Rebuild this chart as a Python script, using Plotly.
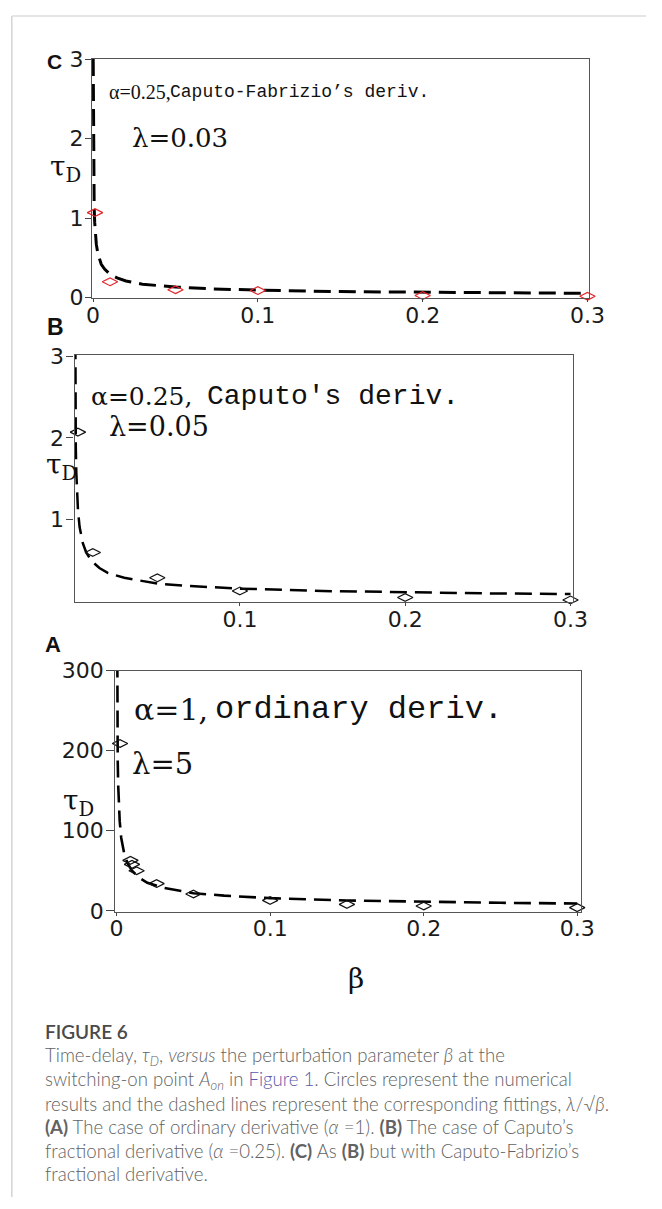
import plotly.graph_objects as go

W, H = 662, 1209

# ---------------- data ----------------
# Panel C: alpha=0.25, Caputo-Fabrizio's derivative, lambda=0.03
beta_C = [0.0012, 0.0103, 0.05, 0.1, 0.2, 0.3]
tau_C = [1.07, 0.20, 0.10, 0.09, 0.027, 0.018]
# Panel B: alpha=0.25, Caputo's derivative, lambda=0.05
beta_B = [0.002, 0.011, 0.05, 0.1, 0.2, 0.3]
tau_B = [2.07, 0.60, 0.29, 0.13, 0.05, 0.02]
# Panel A: alpha=1, ordinary derivative, lambda=5
beta_A = [0.0022, 0.009, 0.010, 0.013, 0.026, 0.05, 0.1, 0.15, 0.2, 0.3]
tau_A = [209, 63, 58, 50, 34, 21, 13, 8, 6, 4]

# dashed fitting curves
fit_beta = [0.0001, 0.00015, 0.0002, 0.0003, 0.0005, 0.0007, 0.001, 0.0015, 0.002,
            0.003, 0.005, 0.007, 0.01, 0.015, 0.02, 0.03, 0.05, 0.07, 0.1, 0.15,
            0.2, 0.25, 0.3]
fit_C = [3.0, 2.45, 2.12, 1.73, 1.34, 1.13, 0.95, 0.77, 0.67, 0.55, 0.42, 0.36,
         0.30, 0.245, 0.21, 0.17, 0.134, 0.113, 0.095, 0.077, 0.067, 0.060, 0.055]
fit_B = [5.0, 4.08, 3.54, 2.89, 2.24, 1.89, 1.58, 1.29, 1.12, 0.91, 0.71, 0.60,
         0.50, 0.41, 0.35, 0.29, 0.22, 0.19, 0.158, 0.129, 0.112, 0.100, 0.091]
fit_A = [500, 408, 354, 289, 224, 189, 158, 129, 112, 91, 71, 60, 50, 41, 35, 29,
         22, 19, 15.8, 12.9, 11.2, 10.0, 9.1]

xt_C = [0, 0.1, 0.2, 0.3]; xl_C = ["0", "0.1", "0.2", "0.3"]
yt_C = [0, 1, 2, 3]; yl_C = ["0", "1", "2", "3"]
xt_B = [0.1, 0.2, 0.3]; xl_B = ["0.1", "0.2", "0.3"]
yt_B = [1, 2, 3]; yl_B = ["1", "2", "3"]
xt_A = [0, 0.1, 0.2, 0.3]; xl_A = ["0", "0.1", "0.2", "0.3"]
yt_A = [0, 100, 200, 300]; yl_A = ["0", "100", "200", "300"]


def px(x):
    return x / W


def py(y):
    return 1 - y / H


fig = go.Figure()

panels = [
    ("x", "y", fit_C, beta_C, tau_C, "#e4262b", 3.0),
    ("x2", "y2", fit_B, beta_B, tau_B, "#111111", 2.5),
    ("x3", "y3", fit_A, beta_A, tau_A, "#111111", 2.6),
]
for xa, ya, fit, bx, ty, mcol, lw in panels:
    fig.add_trace(go.Scatter(x=fit_beta, y=fit, mode="lines", xaxis=xa, yaxis=ya,
                             line=dict(color="black", width=lw, dash="17px,8px"),
                             hoverinfo="skip"))
    fig.add_trace(go.Scatter(x=bx, y=ty, mode="markers", xaxis=xa, yaxis=ya,
                             cliponaxis=False,
                             marker=dict(symbol="diamond-wide-open", size=11,
                                         color=mcol, line=dict(width=1.2, color=mcol))))

common = dict(showline=True, linecolor="#555", linewidth=1.3, mirror=True,
              showgrid=False, zeroline=False, ticks="outside", tickcolor="#444",
              tickfont=dict(family="DejaVu Sans", size=22, color="#1a1a1a"))

XSO = -6
fig.update_layout(
    width=W, height=H, margin=dict(l=0, r=0, t=0, b=0),
    paper_bgcolor="white", plot_bgcolor="white", showlegend=False,
    xaxis=dict(domain=[px(89), px(603)], range=[-0.0006, 0.3009], anchor="y",
               tickvals=xt_C, ticktext=xl_C, ticklen=3, ticklabelstandoff=XSO, **common),
    yaxis=dict(domain=[py(292), py(48)], range=[-0.006, 3.0], anchor="x",
               tickvals=yt_C, ticktext=yl_C, ticklen=6, ticklabelstandoff=-3, **common),
    xaxis2=dict(domain=[px(71), px(587)], range=[0, 0.3018], anchor="y2",
                tickvals=xt_B, ticktext=xl_B, ticklen=3, ticklabelstandoff=XSO, **common),
    yaxis2=dict(domain=[py(602), py(350)], range=[-0.006, 3.012], anchor="x2",
                tickvals=yt_B, ticktext=yl_B, ticklen=7, ticklabelstandoff=-2, **common),
    xaxis3=dict(domain=[px(113), px(595)], range=[-0.0009, 0.3026], anchor="y3",
                tickvals=xt_A, ticktext=xl_A, ticklen=3, ticklabelstandoff=XSO, **common),
    yaxis3=dict(domain=[py(918), py(672)], range=[-1.2, 300], anchor="x3",
                tickvals=yt_A, ticktext=yl_A, ticklen=8, ticklabelstandoff=-2, **common),
)

anns = []


def ann(text, x, y, size, family, xanchor="left", yanchor="middle", color="#111",
        weight=None):
    f = dict(family=family, size=size, color=color)
    if weight is not None:
        f["weight"] = weight
    anns.append(dict(text=text, x=px(x), y=py(y), xref="paper", yref="paper",
                     xanchor=xanchor, yanchor=yanchor, showarrow=False, font=f,
                     align="left"))


SERIF = "DejaVu Serif"
MONO = "Liberation Mono"
BOLD_SANS = "Liberation Sans"

# panel letters
ann("<b>C</b>", 40, 51, 21, BOLD_SANS)
ann("<b>B</b>", 40, 321, 23, BOLD_SANS)
ann("<b>A</b>", 38, 645, 22, BOLD_SANS)

# panel C texts
ann("α=0.25,", 104, 82, 20, "Liberation Serif")
ann("Caputo-Fabrizio’s deriv.", 168, 82, 18, MONO)
ann("λ=0.03", 128, 129, 26, SERIF)
ann("τ<sub>D</sub>", 62, 160, 28, SERIF, xanchor="center")

# panel B texts
ann("α=0.25,", 86, 392, 25, SERIF)
ann("Caputo's deriv.", 206, 392, 28, MONO)
ann("λ=0.05", 104, 423, 27, SERIF)
ann("τ<sub>D</sub>", 57, 464, 28, SERIF, xanchor="center")

# panel A texts
ann("α=1,", 130, 712, 30, SERIF)
ann("ordinary deriv.", 214, 712, 32, MONO)
ann("λ=5", 128, 767, 29, SERIF)
ann("τ<sub>D</sub>", 75, 806, 28, SERIF, xanchor="center")

# x axis label
ann("β", 362, 986, 28, SERIF, xanchor="center")

# caption
CAP = "Lato"
CAPC = "#626262"
ann("FIGURE 6", 38, 1040, 19, CAP, color="#4a4a4a", weight=600)
cap_lines = [
    "Time-delay, <i>τ<sub>D</sub></i>, <i>versus</i> the perturbation parameter <i>β</i> at the",
    "switching-on point <i>A<sub>on</sub></i> in <span style=\"color:#5b59a8\">Figure 1</span>. Circles represent the numerical",
    "results and the dashed lines represent the corresponding fittings, <i>λ</i>/√<i>β</i>.",
    "<b>(A)</b> The case of ordinary derivative (<i>α</i> =1). <b>(B)</b> The case of Caputo’s",
    "fractional derivative (<i>α</i> =0.25). <b>(C)</b> As <b>(B)</b> but with Caputo-Fabrizio’s",
    "fractional derivative.",
]
cap_y = [1066, 1090, 1114, 1138, 1162, 1186]
for t, yy in zip(cap_lines, cap_y):
    ann(t, 38, yy, 18.6, CAP, color=CAPC, weight=300)

fig.update_layout(annotations=anns)

# light page border
fig.update_layout(shapes=[
    dict(type="line", xref="paper", yref="paper", x0=px(6), x1=px(6), y0=py(4), y1=py(1209),
         line=dict(color="#d4d4d4", width=1.5)),
    dict(type="line", xref="paper", yref="paper", x0=px(6), x1=px(662), y0=py(4), y1=py(4),
         line=dict(color="#dcdcdc", width=1.5)),
])

fig.write_html("out.html")
